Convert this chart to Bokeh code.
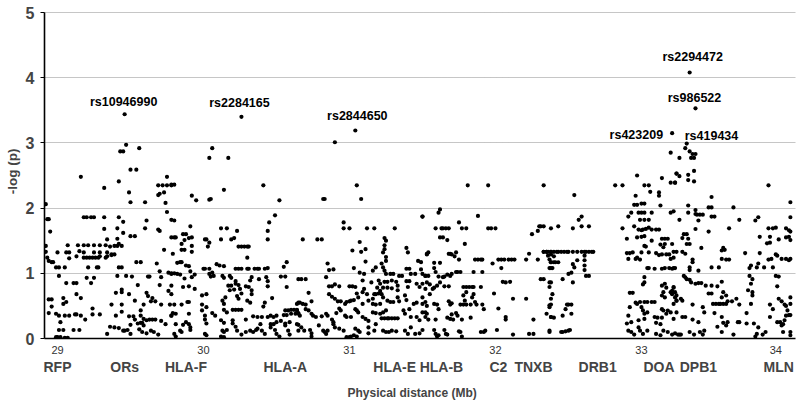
from bokeh.plotting import figure
from bokeh.models import LinearAxis, FixedTicker, ColumnDataSource, Range1d, Grid, Title
from bokeh.embed import file_html
from bokeh.resources import INLINE
from bokeh.core.properties import value

# ---------------- data: (position in Mb, -log(p)) ----------------
seg_rfp_ors = [
    (29.47, 2.97), (29.43, 2.87), (29.45, 2.87), (29.56, 2.92), (29.50, 2.59), (29.54, 2.59), (29.16, 2.48), (29.42, 2.41),
    (29.32, 2.31), (29.49, 2.24), (29.69, 2.35), (29.72, 2.35), (29.75, 2.35), (29.78, 2.35), (29.69, 2.20), (29.70, 2.22),
    (29.73, 2.24), (29.75, 2.48), (29.50, 2.09), (29.60, 2.09), (29.74, 2.08), (29.75, 1.94),
    (28.92, 2.06), (28.93, 1.83), (28.94, 1.83), (28.95, 1.64), (28.92, 1.42), (28.92, 1.33),
    (29.18, 1.86), (29.20, 1.86), (29.23, 1.86), (29.25, 1.86), (29.32, 1.86), (29.42, 1.86),
    (29.32, 1.68), (29.45, 1.79), (29.41, 1.69), (29.60, 1.69), (29.61, 1.81), (29.69, 1.67), (29.70, 1.65), (29.45, 1.62),
    (29.50, 1.57), (29.53, 1.57), (29.34, 1.52), (29.41, 1.53), (29.42, 1.45),
    (29.07, 1.43), (29.14, 1.43), (29.18, 1.43), (29.21, 1.43), (29.25, 1.43), (29.29, 1.43), (29.33, 1.43), (29.36, 1.41),
    (29.39, 1.42), (29.41, 1.42), (29.44, 1.42),
    (29.00, 1.32), (29.06, 1.32), (29.08, 1.32), (29.15, 1.34), (29.18, 1.32), (29.25, 1.32), (29.29, 1.32), (29.34, 1.32),
    (29.37, 1.29), (29.39, 1.29),
    (29.08, 1.23), (29.13, 1.26), (29.18, 1.24), (29.20, 1.24), (29.22, 1.24), (29.24, 1.24), (29.26, 1.24), (29.28, 1.24),
    (29.29, 1.26), (29.33, 1.24), (29.34, 1.26), (29.37, 1.28),
    (28.93, 1.24), (28.94, 1.19), (28.96, 1.17), (28.97, 1.17), (29.54, 1.17), (29.57, 1.17), (29.68, 1.15), (29.73, 1.36),
    (29.78, 1.55), (29.78, 1.82),
    (28.99, 1.09), (29.01, 1.09), (29.05, 1.09), (29.21, 1.09), (29.27, 1.09), (29.28, 1.09), (29.42, 1.09), (29.44, 1.09),
    (29.01, 0.96), (29.20, 0.93), (29.25, 0.93), (29.41, 0.96), (29.47, 0.96), (29.51, 0.95), (29.06, 0.85), (29.11, 0.85),
    (29.13, 0.85), (29.23, 0.85), (29.62, 0.95), (29.63, 0.95), (29.70, 1.03), (29.71, 0.94), (29.76, 1.01), (29.78, 0.99),
    (29.44, 0.75), (29.44, 0.71), (29.55, 0.82), (29.70, 0.82), (29.76, 0.73), (29.13, 0.68), (29.16, 0.62), (29.40, 0.70),
    (29.49, 0.68), (29.61, 0.70),
    (28.94, 0.60), (28.96, 0.60), (29.04, 0.62), (29.06, 0.56), (29.04, 0.53), (28.96, 0.49), (29.37, 0.52), (29.44, 0.52),
    (29.53, 0.58), (29.59, 0.52), (29.64, 0.57), (29.67, 0.57), (29.71, 0.52), (29.77, 0.52), (29.62, 0.65), (29.65, 0.62),
    (29.24, 0.46), (29.44, 0.41), (29.57, 0.43), (28.94, 0.39), (28.99, 0.38), (29.01, 0.35), (29.05, 0.35), (29.08, 0.35),
    (29.12, 0.37), (29.13, 0.37), (29.16, 0.35), (29.24, 0.37), (29.29, 0.37), (29.19, 0.29), (29.02, 0.25),
    (29.40, 0.35), (29.49, 0.34), (29.52, 0.34), (29.53, 0.29), (29.57, 0.35), (29.59, 0.30), (29.61, 0.28), (29.63, 0.29),
    (29.65, 0.29), (29.67, 0.29), (29.55, 0.23), (29.57, 0.24), (29.58, 0.24), (29.59, 0.20), (29.50, 0.21), (29.71, 0.27),
    (29.74, 0.22), (29.78, 0.35), (29.79, 0.39),
    (29.01, 0.13), (29.04, 0.13), (29.11, 0.13), (29.15, 0.13), (29.36, 0.18), (29.39, 0.17), (29.42, 0.16), (29.45, 0.12),
    (29.46, 0.12), (29.48, 0.13), (29.56, 0.14), (29.58, 0.10), (29.61, 0.08), (29.64, 0.12), (29.66, 0.10), (29.69, 0.06),
    (29.34, 0.07), (29.50, 0.07), (28.99, 0.02), (29.00, 0.02), (29.02, 0.02), (29.05, 0.01), (29.07, 0.01),
]

seg_hlaf_hlaa = [
    (30.06, 2.92), (30.04, 2.77), (30.17, 2.77), (29.78, 2.36), (29.80, 2.36), (29.92, 2.19), (29.95, 2.12), (30.04, 2.13),
    (30.05, 2.14), (30.14, 2.28), (30.41, 2.35), (30.52, 2.12), (30.49, 1.89), (30.45, 1.78), (30.44, 1.65), (30.44, 1.52),
    (29.80, 1.81), (29.91, 1.72), (29.86, 1.60), (29.88, 1.60), (29.80, 1.55), (29.81, 1.55), (29.90, 1.54), (29.92, 1.55),
    (29.87, 1.51), (29.85, 1.45), (29.92, 1.42), (29.85, 1.36), (29.87, 1.36), (29.92, 1.33), (29.79, 1.30),
    (30.12, 1.69), (30.16, 1.69), (30.23, 1.65), (30.01, 1.52), (30.02, 1.52), (30.04, 1.47), (30.03, 1.41), (30.12, 1.52),
    (30.19, 1.52), (30.21, 1.54), (30.24, 1.41), (30.26, 1.41), (30.28, 1.41), (30.30, 1.41), (30.31, 1.41), (30.30, 1.24),
    (29.82, 1.16), (29.84, 1.17), (29.85, 1.17), (29.88, 1.12), (29.90, 1.11), (29.78, 1.00), (29.80, 1.00), (29.82, 0.99),
    (29.84, 0.98), (29.87, 0.92), (29.91, 1.03), (29.92, 0.94), (29.94, 0.98),
    (30.00, 1.07), (30.01, 1.07), (30.04, 1.07), (30.04, 0.99), (30.06, 1.01), (30.09, 1.14), (30.11, 1.12), (30.14, 1.11),
    (30.05, 0.95), (30.07, 0.96), (30.13, 0.96), (30.14, 0.93), (30.18, 0.96), (30.19, 0.93), (30.22, 0.88),
    (30.22, 1.07), (30.24, 1.07), (30.26, 1.07), (30.30, 1.07), (30.31, 1.07), (30.35, 1.07), (30.37, 1.07), (30.38, 1.07),
    (30.42, 1.07), (30.44, 1.08), (30.33, 0.94), (30.32, 0.89), (30.38, 0.91), (30.43, 0.94), (30.44, 0.88), (30.55, 1.10),
    (30.57, 1.17), (30.53, 0.95), (30.56, 0.95), (30.57, 0.79), (30.65, 0.91),
    (29.86, 0.79), (29.90, 0.80), (29.94, 0.76), (29.78, 0.81), (30.17, 0.81), (30.19, 0.81), (30.22, 0.84), (30.24, 0.82),
    (30.18, 0.74), (30.21, 0.75), (30.25, 0.76), (30.26, 0.69), (30.29, 0.80), (30.31, 0.79), (30.33, 0.74), (30.33, 0.68),
    (30.15, 0.63), (30.23, 0.65), (30.24, 0.61), (30.30, 0.58), (30.13, 0.58), (30.14, 0.53), (30.44, 0.80),
    (29.78, 0.68), (29.89, 0.56), (29.90, 0.56), (29.85, 0.52), (29.80, 0.52), (29.99, 0.66), (30.02, 0.68), (29.99, 0.52),
    (30.02, 0.48), (30.32, 0.55), (30.42, 0.55), (30.41, 0.49), (30.47, 0.62), (30.65, 0.55),
    (30.20, 0.44), (30.22, 0.44), (30.24, 0.44), (30.26, 0.44), (30.14, 0.44), (30.16, 0.40), (29.99, 0.43), (30.01, 0.35),
    (29.90, 0.38), (29.78, 0.35), (29.81, 0.38), (30.06, 0.39), (30.08, 0.35), (30.12, 0.28), (30.14, 0.24), (30.29, 0.29),
    (30.34, 0.34), (30.37, 0.33), (30.40, 0.33), (30.44, 0.33), (30.46, 0.35), (30.48, 0.33), (30.50, 0.35), (30.56, 0.43),
    (30.58, 0.43), (30.60, 0.44), (30.62, 0.44), (30.64, 0.44), (30.55, 0.36), (30.57, 0.36), (30.60, 0.38), (30.63, 0.38),
    (30.65, 0.38), (30.39, 0.22), (30.46, 0.22), (30.48, 0.22), (30.50, 0.25), (30.53, 0.27), (30.56, 0.23), (30.59, 0.25),
    (29.81, 0.22), (29.86, 0.21), (29.88, 0.25), (29.90, 0.22), (29.91, 0.17), (30.01, 0.29), (30.02, 0.23), (30.20, 0.23),
    (30.20, 0.28), (29.84, 0.12), (29.85, 0.10), (29.91, 0.13), (30.01, 0.07), (30.02, 0.05), (30.13, 0.12), (30.14, 0.10),
    (30.16, 0.13), (30.22, 0.18), (30.23, 0.12), (30.26, 0.06), (30.29, 0.10), (30.32, 0.12), (30.34, 0.10), (30.36, 0.13),
    (30.37, 0.15), (30.40, 0.12), (30.42, 0.07), (30.46, 0.17), (30.49, 0.13), (30.50, 0.07), (30.52, 0.03), (30.56, 0.20),
    (30.58, 0.12), (30.59, 0.06), (30.65, 0.12), (29.80, 0.07), (29.81, 0.03), (30.12, 0.03), (30.14, 0.02),
]

seg_hlae = [
    (30.90, 3.01), (31.05, 2.35), (30.82, 2.14), (30.83, 2.14), (31.08, 2.14), (30.96, 1.78), (30.96, 1.69), (31.00, 1.69),
    (31.12, 1.69), (31.17, 1.69), (31.31, 1.69), (31.50, 1.87), (30.68, 1.52), (30.78, 1.52), (30.81, 1.52), (31.07, 1.48),
    (31.02, 1.35), (31.08, 1.33), (31.11, 1.37), (31.11, 1.18),
    (31.24, 1.54), (31.25, 1.50), (31.24, 1.43), (31.24, 1.37), (31.23, 1.32), (31.25, 1.25), (31.25, 1.19), (31.39, 1.39),
    (31.40, 1.32), (31.47, 1.19), (31.49, 1.17), (31.53, 1.30),
    (30.85, 1.15), (30.86, 1.05), (30.89, 1.06), (30.84, 0.94), (30.67, 0.91), (30.70, 0.91), (31.03, 1.08), (31.07, 1.01),
    (31.10, 0.99), (31.16, 1.04), (31.18, 1.09), (31.22, 1.15), (31.23, 1.09), (31.24, 1.04), (31.25, 0.99), (31.28, 0.99),
    (31.30, 0.99), (31.34, 0.96), (31.36, 0.96), (31.39, 1.07), (31.41, 1.07), (31.42, 0.99), (31.45, 0.99), (31.49, 1.06),
    (31.50, 0.99), (31.52, 0.96),
    (30.86, 0.80), (30.88, 0.80), (30.90, 0.83), (30.93, 0.80), (31.00, 0.80), (31.02, 0.80), (31.04, 0.79), (31.09, 0.89),
    (31.10, 0.76), (31.15, 0.86), (31.20, 0.89), (31.21, 0.84), (31.24, 0.87), (31.26, 0.87), (31.29, 0.89), (31.32, 0.87),
    (31.19, 0.78), (31.21, 0.73), (31.23, 0.78), (31.33, 0.81), (31.33, 0.74), (31.39, 0.88), (31.41, 0.88), (31.40, 0.79),
    (31.46, 0.84), (31.48, 0.79), (31.50, 0.84), (31.52, 0.76), (31.26, 0.78), (31.29, 0.77),
    (30.72, 0.70), (30.86, 0.68), (30.88, 0.64), (30.90, 0.61), (30.92, 0.57), (30.94, 0.57), (30.97, 0.53), (30.98, 0.56),
    (31.00, 0.57), (31.01, 0.58), (31.03, 0.59), (31.05, 0.69), (31.06, 0.63), (31.09, 0.71), (31.12, 0.68), (31.13, 0.58),
    (31.09, 0.53), (31.17, 0.68), (31.18, 0.68), (31.20, 0.69), (31.22, 0.68), (31.16, 0.61), (31.16, 0.53), (31.18, 0.52),
    (31.21, 0.53), (31.23, 0.63), (31.26, 0.58), (31.28, 0.56), (31.30, 0.56), (31.33, 0.63), (31.34, 0.57), (31.38, 0.66),
    (31.39, 0.59), (31.44, 0.53), (31.46, 0.55), (31.50, 0.63), (31.52, 0.56),
    (30.64, 0.53), (30.66, 0.55), (30.68, 0.53), (30.70, 0.52), (30.74, 0.57), (30.70, 0.45), (30.72, 0.43), (30.74, 0.38),
    (30.75, 0.35), (30.77, 0.33), (30.64, 0.43), (30.65, 0.39), (30.66, 0.35), (30.81, 0.34), (30.84, 0.38), (30.85, 0.35),
    (30.88, 0.29), (30.89, 0.25), (30.91, 0.39), (30.93, 0.46), (30.94, 0.43), (30.97, 0.35), (30.98, 0.33), (31.04, 0.45),
    (31.05, 0.43), (31.06, 0.40), (31.01, 0.33), (31.09, 0.33), (31.11, 0.30), (31.13, 0.27), (31.16, 0.40), (31.18, 0.39),
    (31.21, 0.38),
    (31.22, 0.31), (31.24, 0.31), (31.26, 0.31), (31.27, 0.31), (31.29, 0.31), (31.31, 0.31), (31.33, 0.31), (31.23, 0.40),
    (31.25, 0.43), (31.37, 0.43), (31.38, 0.38), (31.41, 0.45), (31.42, 0.33), (31.46, 0.33), (31.48, 0.28), (31.50, 0.40),
    (31.52, 0.33),
    (30.64, 0.22), (30.65, 0.21), (30.67, 0.17), (30.69, 0.12), (30.73, 0.13), (30.74, 0.08), (30.79, 0.20), (30.82, 0.12),
    (30.83, 0.10), (30.84, 0.07), (30.85, 0.12), (30.89, 0.22), (30.90, 0.17), (30.93, 0.15), (30.96, 0.12), (30.98, 0.02),
    (31.00, 0.02), (31.01, 0.03), (31.03, 0.05), (31.05, 0.03), (31.04, 0.15), (31.06, 0.12), (31.07, 0.10), (31.13, 0.17),
    (31.13, 0.08), (31.17, 0.12), (31.18, 0.22), (31.23, 0.12), (31.25, 0.10), (31.27, 0.10), (31.29, 0.12), (31.32, 0.11),
    (31.38, 0.12), (31.40, 0.07), (31.42, 0.17), (31.45, 0.07), (31.48, 0.08), (31.50, 0.13), (30.74, 0.03),
]

seg_hlab_tnxb = [
    (31.81, 2.35), (31.95, 2.35), (32.33, 2.35), (31.62, 1.98), (31.61, 1.93), (31.50, 1.87), (31.88, 1.88), (31.75, 1.78),
    (31.59, 1.69), (31.63, 1.69), (31.64, 1.69), (31.66, 1.69), (31.68, 1.69), (31.77, 1.69), (31.80, 1.69), (31.95, 1.69),
    (31.97, 1.69), (32.00, 1.69), (32.30, 1.72), (32.31, 1.72), (32.33, 1.72), (32.29, 1.65), (32.25, 1.60), (31.62, 1.55),
    (31.64, 1.55), (31.67, 1.51), (31.79, 1.45),
    (31.54, 1.32), (31.53, 1.29), (31.68, 1.30), (31.69, 1.30), (31.70, 1.29), (31.73, 1.32), (31.72, 1.26), (31.75, 1.21),
    (31.86, 1.21), (31.88, 1.21), (31.90, 1.21), (31.91, 1.21), (32.02, 1.21), (32.04, 1.21), (32.06, 1.21), (32.09, 1.21),
    (32.11, 1.21), (32.13, 1.21), (31.98, 1.15), (32.21, 1.21), (32.23, 1.30), (32.29, 1.21), (32.33, 1.33), (32.35, 1.33),
    (32.36, 1.33), (32.38, 1.33), (32.37, 1.21), (32.38, 1.17), (32.38, 1.08),
    (31.58, 1.16), (31.62, 1.16), (31.58, 1.08), (31.59, 1.02), (31.52, 0.96), (31.54, 0.96), (31.61, 0.95), (31.64, 0.94),
    (31.65, 0.95), (31.67, 0.98), (31.69, 0.96), (31.70, 0.99), (31.73, 1.02), (31.74, 1.02), (31.76, 1.02), (31.85, 1.02),
    (31.91, 1.02), (32.04, 1.08), (32.05, 0.87), (32.07, 0.86), (32.10, 0.87), (32.31, 0.91), (32.33, 0.91), (32.37, 0.86),
    (31.53, 0.86), (31.55, 0.83), (31.60, 0.81), (31.58, 0.78), (31.57, 0.76), (31.55, 0.68), (31.65, 0.80), (31.68, 0.80),
    (31.62, 0.86), (31.78, 0.79), (31.80, 0.79), (31.82, 0.79), (31.84, 0.79), (31.85, 0.79), (31.80, 0.71), (31.78, 0.66),
    (31.90, 0.79), (31.85, 0.68), (31.84, 0.63), (31.99, 0.69), (32.37, 0.79), (32.39, 0.68),
    (31.50, 0.53), (31.53, 0.50), (31.52, 0.40), (31.58, 0.53), (31.60, 0.52), (31.61, 0.45), (31.68, 0.57), (31.70, 0.54),
    (31.69, 0.52), (31.76, 0.52), (31.78, 0.52), (31.80, 0.52), (31.83, 0.52), (31.87, 0.52), (31.91, 0.52), (31.92, 0.45),
    (31.79, 0.58), (31.86, 0.56), (32.12, 0.61), (32.21, 0.61), (32.02, 0.46), (32.38, 0.61), (32.37, 0.51),
    (31.53, 0.38), (31.54, 0.29), (31.59, 0.29), (31.67, 0.32), (31.69, 0.30), (31.71, 0.29), (31.70, 0.37), (31.73, 0.39),
    (31.74, 0.35), (31.77, 0.29), (31.83, 0.32), (32.07, 0.33), (32.07, 0.29), (32.26, 0.29), (32.35, 0.38), (32.38, 0.33),
    (31.58, 0.13), (31.59, 0.07), (31.60, 0.03), (31.61, 0.05), (31.65, 0.13), (31.66, 0.07), (31.67, 0.06), (31.75, 0.11),
    (31.76, 0.10), (31.77, 0.03), (31.90, 0.10), (31.92, 0.10), (31.93, 0.12), (32.01, 0.13), (32.12, 0.06), (32.23, 0.07),
    (32.26, 0.07), (32.37, 0.10),
]

seg_drb1_doa = [
    (33.20, 2.85), (33.24, 2.53), (33.23, 2.39), (33.20, 2.39), (32.97, 2.50), (32.82, 2.35), (32.87, 2.35), (33.02, 2.35),
    (33.05, 2.35), (33.06, 2.25), (33.12, 2.24), (33.12, 2.19), (33.14, 2.46), (32.54, 2.20), (32.96, 2.19), (32.95, 2.05),
    (32.97, 2.05), (33.00, 2.07), (33.02, 2.07), (33.13, 2.04), (33.22, 1.95), (33.20, 1.93), (32.93, 1.93), (32.98, 1.93),
    (33.00, 1.93), (33.02, 1.93), (33.07, 1.93), (32.59, 1.87), (32.57, 1.82), (32.91, 1.87),
    (32.38, 1.69), (32.43, 1.72), (32.53, 1.69), (32.59, 1.72), (32.64, 1.72), (32.87, 1.69), (32.95, 1.72), (32.99, 1.82),
    (33.02, 1.82), (33.05, 1.82), (33.05, 1.70), (33.00, 1.66), (32.98, 1.67), (33.01, 1.67), (33.03, 1.68), (33.07, 1.67),
    (33.10, 1.67), (33.12, 1.67), (32.97, 1.55), (33.00, 1.56), (33.02, 1.57), (32.90, 1.53), (33.07, 1.50), (33.14, 1.53),
    (33.16, 1.53), (33.18, 1.53), (33.13, 1.44), (33.16, 1.45), (33.15, 1.40),
    (32.33, 1.33), (32.35, 1.33), (32.38, 1.33), (32.40, 1.33), (32.42, 1.33), (32.43, 1.33), (32.45, 1.33), (32.47, 1.33),
    (32.49, 1.33), (32.50, 1.33), (32.53, 1.33), (32.56, 1.33), (32.59, 1.33), (32.61, 1.33), (32.62, 1.33), (32.64, 1.33),
    (32.66, 1.33), (32.67, 1.33),
    (32.36, 1.27), (32.38, 1.29), (32.40, 1.26), (32.61, 1.27), (32.61, 1.20), (32.61, 1.12), (32.61, 1.05), (32.62, 0.96),
    (32.64, 0.96), (32.38, 1.17), (32.40, 1.17), (32.41, 1.17), (32.43, 1.17), (32.37, 1.08), (32.39, 1.08), (32.53, 1.14),
    (32.54, 1.09), (32.56, 1.20), (32.52, 1.01), (32.50, 0.99), (32.53, 0.86), (32.46, 0.91), (32.38, 0.86),
    (32.90, 1.31), (32.92, 1.31), (32.94, 1.32), (32.91, 1.22), (32.96, 1.22), (32.97, 1.24), (32.99, 1.21), (33.00, 1.32),
    (33.02, 1.42), (33.03, 1.41), (33.05, 1.32), (33.10, 1.31), (33.12, 1.28), (33.14, 1.29), (33.17, 1.29), (33.19, 1.29),
    (33.20, 1.22), (33.22, 1.24), (33.04, 1.08), (33.05, 1.08), (33.09, 1.07), (33.14, 1.07), (33.16, 1.08), (33.19, 1.08),
    (33.21, 1.07), (33.23, 1.08), (33.02, 0.94), (33.02, 0.86), (33.01, 0.83), (33.16, 0.84), (33.14, 0.81), (33.17, 0.78),
    (33.22, 0.78), (33.21, 0.73), (33.15, 0.71), (33.20, 0.71), (33.23, 0.71), (33.24, 0.66), (32.92, 0.70), (32.94, 0.70),
    (33.14, 0.66), (33.16, 0.63),
    (32.38, 0.52), (32.37, 0.48), (32.49, 0.52), (32.50, 0.52), (32.52, 0.52), (32.48, 0.45), (32.52, 0.38), (32.38, 0.33),
    (32.40, 0.32), (32.46, 0.35), (32.92, 0.48), (32.91, 0.35), (32.96, 0.55), (32.97, 0.53), (32.99, 0.56), (33.02, 0.56),
    (33.04, 0.56), (33.07, 0.56), (33.09, 0.56), (33.00, 0.48), (33.01, 0.43), (33.04, 0.40), (33.02, 0.38), (33.09, 0.33),
    (33.11, 0.32), (33.14, 0.32), (33.17, 0.38), (33.14, 0.45), (33.15, 0.43), (33.18, 0.43), (33.20, 0.40), (33.22, 0.53),
    (33.24, 0.58), (33.24, 0.40),
    (32.37, 0.12), (32.45, 0.10), (32.46, 0.10), (32.48, 0.11), (32.50, 0.12), (32.51, 0.13), (32.91, 0.12), (32.93, 0.10),
    (32.95, 0.06), (32.98, 0.17), (32.99, 0.12), (33.01, 0.07), (33.04, 0.12), (33.10, 0.07), (33.13, 0.05), (33.15, 0.12),
    (33.18, 0.10), (33.21, 0.06), (33.23, 0.08), (32.90, 0.23), (32.93, 0.25), (32.98, 0.28), (33.02, 0.30), (33.10, 0.24),
    (33.13, 0.22),
]

seg_dpb1_mln = [
    (33.30, 2.92), (33.33, 2.87), (33.35, 2.83), (33.37, 2.83), (33.34, 2.77), (33.36, 2.77), (33.26, 2.77), (33.24, 2.53),
    (33.26, 2.49), (33.23, 2.39), (33.32, 2.51), (33.32, 2.43), (33.36, 2.57), (33.36, 2.41), (33.48, 2.17), (33.87, 2.35),
    (33.32, 2.04), (33.32, 1.93), (33.37, 1.97), (33.37, 1.91), (33.38, 1.90), (33.40, 1.90), (33.42, 1.90), (33.46, 2.01),
    (33.48, 2.01), (33.48, 1.87), (33.50, 1.87), (33.63, 2.01), (34.02, 2.09),
    (33.26, 1.82), (33.39, 1.81), (33.67, 1.82), (33.78, 1.81), (33.80, 1.86), (34.02, 1.86), (33.37, 1.68), (33.60, 1.69),
    (33.46, 1.64), (33.87, 1.69), (33.90, 1.69), (33.92, 1.70), (33.99, 1.69), (34.01, 1.66), (34.02, 1.64), (33.29, 1.60),
    (33.31, 1.60), (33.28, 1.54), (33.32, 1.53), (33.81, 1.56), (33.88, 1.56), (33.94, 1.52), (33.99, 1.55), (34.01, 1.56),
    (34.02, 1.51), (33.86, 1.46), (33.88, 1.47), (33.31, 1.45), (33.33, 1.45),
    (33.21, 1.45), (33.22, 1.33), (33.24, 1.33), (33.28, 1.33), (33.30, 1.30), (33.41, 1.39), (33.56, 1.39), (33.57, 1.36),
    (33.55, 1.35), (33.55, 1.22), (33.58, 1.21), (33.60, 1.21), (33.71, 1.31), (33.35, 1.21), (33.35, 1.17), (33.81, 1.31),
    (33.87, 1.21), (33.89, 1.22), (33.92, 1.29), (33.93, 1.27), (33.96, 1.22), (33.99, 1.22), (34.01, 1.20), (34.02, 1.22),
    (33.75, 1.12), (33.74, 1.08), (33.79, 1.09), (33.84, 1.09), (33.90, 1.09), (33.80, 1.15), (33.48, 1.09), (33.53, 1.09),
    (33.33, 1.09), (33.33, 1.05), (33.39, 1.04), (33.22, 1.08),
    (33.29, 0.96), (33.30, 0.94), (33.31, 0.91), (33.33, 0.90), (33.34, 0.86), (33.37, 0.84), (33.39, 0.85), (33.41, 0.85),
    (33.44, 0.81), (33.48, 0.81), (33.52, 0.80), (33.55, 0.87), (33.74, 0.96), (33.76, 0.91), (33.75, 0.84), (33.92, 0.96),
    (33.94, 0.95), (33.93, 0.80), (33.22, 0.79), (33.73, 0.74), (33.76, 0.71), (33.76, 0.66), (33.46, 0.69), (33.48, 0.69),
    (33.56, 0.71), (33.58, 0.66), (33.55, 0.63), (33.65, 0.61),
    (33.21, 0.68), (33.23, 0.63), (33.24, 0.58), (33.27, 0.61), (33.28, 0.58), (33.42, 0.48), (33.43, 0.40), (33.35, 0.52),
    (33.49, 0.53), (33.51, 0.53), (33.53, 0.53), (33.54, 0.53), (33.56, 0.53), (33.58, 0.53), (33.59, 0.57), (33.62, 0.57),
    (33.67, 0.52), (33.75, 0.53), (33.88, 0.52), (33.90, 0.45), (33.94, 0.61), (33.96, 0.57), (33.98, 0.52), (33.99, 0.50),
    (34.00, 0.43), (34.02, 0.63), (34.02, 0.53),
    (33.72, 0.39), (33.50, 0.39), (33.28, 0.33), (33.30, 0.33), (33.22, 0.30), (33.35, 0.29), (33.39, 0.25), (33.55, 0.33),
    (33.56, 0.24), (33.52, 0.18), (33.59, 0.25), (33.58, 0.20), (33.66, 0.25), (33.67, 0.25), (33.72, 0.23), (33.77, 0.23),
    (33.80, 0.17), (33.88, 0.33), (33.93, 0.25), (33.95, 0.25), (33.96, 0.20), (33.99, 0.35), (34.01, 0.36), (34.02, 0.36),
    (33.98, 0.28), (33.97, 0.22),
    (33.25, 0.06), (33.26, 0.06), (33.27, 0.06), (33.33, 0.10), (33.36, 0.06), (33.40, 0.10), (33.42, 0.06), (33.43, 0.12),
    (33.55, 0.10), (33.63, 0.06), (33.79, 0.07), (33.83, 0.06), (33.85, 0.10), (33.78, 0.03), (33.97, 0.10), (34.02, 0.10),
    (34.02, 0.05),
]

# top SNPs (labelled)
snp_names = ["rs10946990", "rs2284165", "rs2844650", "rs2294472", "rs986522", "rs423209", "rs419434"]
snp_pos = [29.46, 30.26, 31.04, 33.33, 33.37, 33.21, 33.31]
snp_logp = [3.44, 3.40, 3.19, 4.08, 3.53, 3.15, 2.99]

# axis annotations
mb_ticks = [29, 30, 31, 32, 33, 33.92]
mb_tick_labels = ["29", "30", "31", "32", "33", "34"]
genes = ["RFP", "ORs", "HLA-F", "HLA-A", "HLA-E", "HLA-B", "C2", "TNXB", "DRB1", "DOA", "DPB1", "MLN"]
gene_pos = [29.0, 29.46, 29.88, 30.56, 31.31, 31.63, 32.02, 32.26, 32.70, 33.12, 33.39, 33.94]
y_ticks = [0, 1, 2, 3, 4, 5]
x_title = "Physical distance (Mb)"

# ---------------- figure ----------------
all_pts = seg_rfp_ors + seg_hlaf_hlaa + seg_hlae + seg_hlab_tnxb + seg_drb1_doa + seg_dpb1_mln
xs = [pt[0] for pt in all_pts] + snp_pos
ys = [pt[1] for pt in all_pts] + snp_logp

p = figure(width=800, height=406, output_backend="svg", toolbar_location=None,
           x_range=Range1d(28.911, 34.055), y_range=Range1d(0, 5.123),
           x_axis_type=None, y_axis_type=None,
           min_border_left=44, min_border_right=5, min_border_top=4, min_border_bottom=68)
p.outline_line_color = None
p.background_fill_color = "white"
p.border_fill_color = "white"

grid = Grid(dimension=1, ticker=FixedTicker(ticks=y_ticks[1:]),
            grid_line_color="#8c8c8c", grid_line_dash="1 1", grid_line_width=1)
p.add_layout(grid)

sans = "Liberation Sans"

yaxis = LinearAxis(ticker=FixedTicker(ticks=y_ticks), bounds=(0, 5),
                   axis_label="-log (p)",
                   axis_label_text_font=sans, axis_label_text_font_style="bold",
                   axis_label_text_font_size="13.5px", axis_label_standoff=3,
                   major_label_text_font=sans, major_label_text_font_style="bold",
                   major_label_text_font_size="16px", major_label_standoff=6,
                   major_tick_out=4, major_tick_in=0, minor_tick_out=0, minor_tick_in=0,
                   axis_line_width=1.6, major_tick_line_width=1.2)
p.add_layout(yaxis, "left")

xaxis = LinearAxis(ticker=FixedTicker(ticks=mb_ticks),
                   major_label_overrides={t: l for t, l in zip(mb_ticks, mb_tick_labels)},
                   major_label_text_font=sans, major_label_text_font_size="11px",
                   major_label_text_color="#333333", major_label_standoff=7,
                   major_tick_out=0, major_tick_in=0, minor_tick_out=0, minor_tick_in=0,
                   axis_line_width=1.6)
p.add_layout(xaxis, "below")

gaxis = LinearAxis(ticker=FixedTicker(ticks=gene_pos),
                   major_label_overrides={t: g for t, g in zip(gene_pos, genes)},
                   major_label_text_font=sans, major_label_text_font_style="bold",
                   major_label_text_font_size="14px", major_label_standoff=2,
                   major_tick_out=0, major_tick_in=0, minor_tick_out=0, minor_tick_in=0,
                   axis_line_color=None, major_tick_line_color=None, minor_tick_line_color=None)
p.add_layout(gaxis, "below")

p.add_layout(Title(text=x_title, align="left", offset=303, standoff=12,
                   text_font=sans, text_font_style="bold", text_font_size="12px"), "below")

p.scatter(xs, ys, size=4.2, color="black", line_color=None)

# SNP labels, offset from their points (screen px)
lab_dx = [-1, -2, 2, 3, -1, -9, -2]
lab_dy = [-12, -14, -15, -15, -10, 2, -8]
lab_align = ["center", "center", "center", "center", "center", "right", "left"]
src = ColumnDataSource(dict(x=snp_pos, y=snp_logp, t=snp_names, dx=lab_dx, dy=lab_dy, al=lab_align))
p.text(x="x", y="y", text="t", x_offset="dx", y_offset="dy", text_align="al", source=src,
       text_baseline="middle", text_font=value(sans), text_font_style="bold",
       text_font_size="12.5px", text_color="black")

open("out.html", "w").write(file_html(p, INLINE))
